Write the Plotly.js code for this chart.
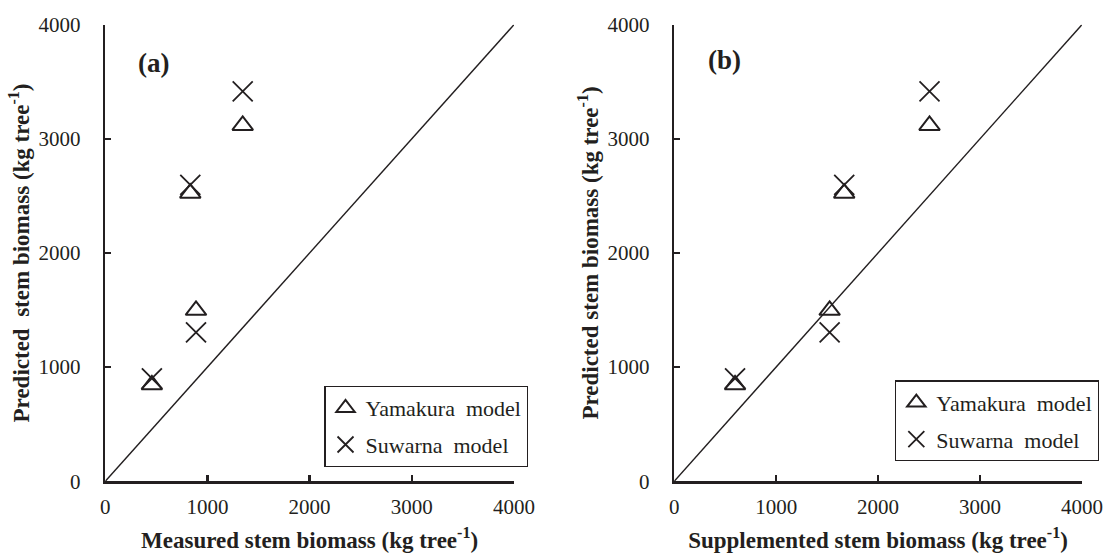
<!DOCTYPE html>
<html>
<head>
<meta charset="utf-8">
<script src="https://cdn.plot.ly/plotly-3.0.1.min.js"></script>
<style>html,body{margin:0;padding:0;background:#fff;}#chart{width:1106px;height:554px;}</style>
</head>
<body>
<div id="chart"></div>
<script>
// Data (kg tree^-1)
const measuredBiomass = [456, 888, 832, 1345];
const supplementedBiomass = [597, 1525, 1668, 2505];
const yamakuraPredicted = [845, 1497, 2524, 3117];
const suwarnaPredicted = [900, 1305, 2596, 3415];
const oneToOne = [0, 4000];
const tickValues = [0, 1000, 2000, 3000, 4000];
const seriesNames = ["Yamakura\u00a0 model", "Suwarna\u00a0 model"];
const panelLabels = ["(a)", "(b)"];

const INK = "#231f20";
const SERIF = "Liberation Serif";

function triTrace(x, xa, ya, leg, show) {
  return {x: x, y: yamakuraPredicted, xaxis: xa, yaxis: ya, type: "scatter", mode: "markers",
    name: seriesNames[0], legend: leg, legendgroup: "g1", showlegend: show,
    marker: {symbol: "triangle-up-open", size: 18, color: INK, line: {color: INK, width: 2}}};
}
function xTrace(x, xa, ya, leg, show) {
  return {x: x, y: suwarnaPredicted, xaxis: xa, yaxis: ya, type: "scatter", mode: "markers",
    name: seriesNames[1], legend: leg, legendgroup: "g2", showlegend: show,
    marker: {symbol: "x-thin-open", size: 20, color: INK, line: {color: INK, width: 1.8}}};
}
function lineTrace(xa, ya) {
  return {x: oneToOne, y: oneToOne, xaxis: xa, yaxis: ya, type: "scatter", mode: "lines",
    showlegend: false, hoverinfo: "skip", line: {color: INK, width: 1.4}};
}

const data = [
  lineTrace("x", "y"),
  triTrace(measuredBiomass, "x", "y", "legend", true),
  xTrace(measuredBiomass, "x", "y", "legend", true),
  lineTrace("x2", "y2"),
  triTrace(supplementedBiomass, "x2", "y2", "legend2", true),
  xTrace(supplementedBiomass, "x2", "y2", "legend2", true)
];

function axis(domain, anchor, titleText, isY) {
  return {
    domain: domain, anchor: anchor, range: [0, 4000], autorange: false,
    tickvals: tickValues, ticktext: tickValues.map(String),
    ticks: "inside", ticklen: 6, tickwidth: 2.5, tickcolor: INK,
    showline: true, linecolor: INK, linewidth: 2.5, mirror: false,
    showgrid: false, zeroline: false, fixedrange: true,
    ticklabelstandoff: isY ? 18 : 5,
    tickfont: {family: SERIF, size: 21, color: INK},
    title: {text: titleText, standoff: isY ? 3 : 14,
      font: {family: SERIF, size: 23, color: INK, weight: "bold"}}
  };
}

const yDom = [0.1314, 0.9554];
const legendCommon = {
  bgcolor: "#ffffff", bordercolor: INK, borderwidth: 1.3,
  font: {family: SERIF, size: 22, color: INK},
  traceorder: "grouped", tracegroupgap: 5,
  xanchor: "right", yanchor: "top", itemwidth: 30
};

const layout = {
  width: 1106, height: 554,
  margin: {l: 0, r: 0, t: 0, b: 0},
  font: {family: SERIF, color: INK},
  paper_bgcolor: "#ffffff", plot_bgcolor: "#ffffff",
  xaxis: axis([0.0952, 0.4647], "y", "Measured stem biomass (kg tree<sup>-1</sup>)", false),
  yaxis: axis(yDom, "x", "Predicted\u00a0 stem biomass (kg tree<sup>-1</sup>)", true),
  xaxis2: axis([0.6096, 0.9782], "y2", "Supplemented stem biomass (kg tree<sup>-1</sup>)", false),
  yaxis2: axis(yDom, "x2", "Predicted stem biomass (kg tree<sup>-1</sup>)", true),
  legend: Object.assign({x: 0.4776, y: 0.3036}, legendCommon),
  legend2: Object.assign({x: 0.9937, y: 0.3132}, legendCommon),
  annotations: [
    {text: panelLabels[0], xref: "paper", yref: "paper", x: 0.1392, y: 0.8863,
      xanchor: "center", yanchor: "middle", showarrow: false,
      font: {family: SERIF, size: 27, color: INK, weight: "bold"}},
    {text: panelLabels[1], xref: "paper", yref: "paper", x: 0.6555, y: 0.8917,
      xanchor: "center", yanchor: "middle", showarrow: false,
      font: {family: SERIF, size: 27, color: INK, weight: "bold"}}
  ],
  showlegend: true
};

Plotly.newPlot("chart", data, layout, {staticPlot: true, displayModeBar: false});
</script>
</body>
</html>
